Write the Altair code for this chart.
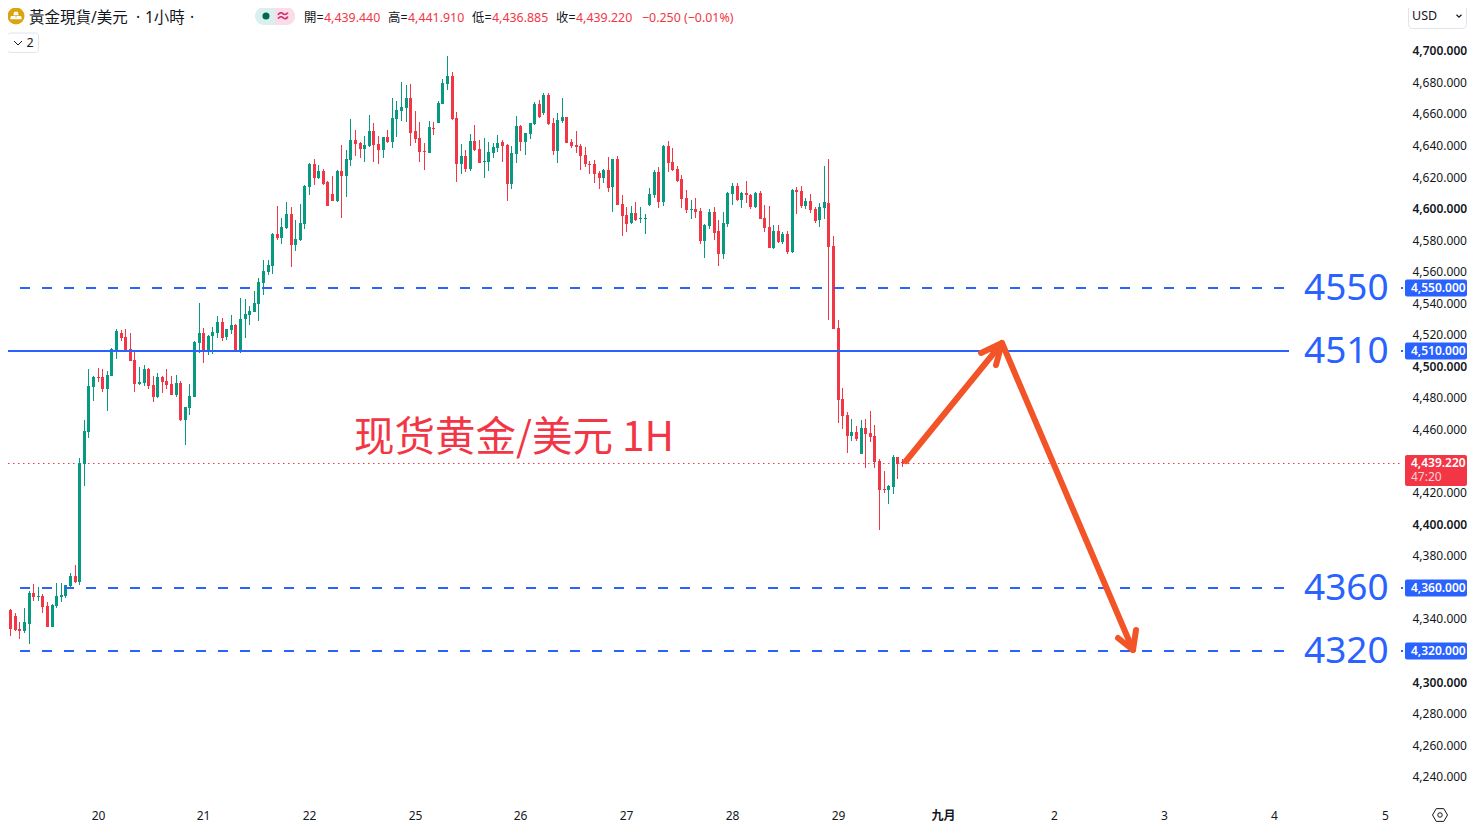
import json
import altair as alt
import pandas as pd

opens = [4358.2,4354.2,4346.0,4342.2,4333.9,4332.7,4337.1,4356.7,4354.2,4354.8,
4348.5,4335.2,4348.5,4354.2,4354.8,4361.2,4367.5,4363.7,4438.5,4458.7,
4487.2,4493.6,4493.6,4486.0,4494.2,4510.1,4521.5,4518.9,4511.3,4504.4,
4489.1,4489.8,4498.7,4488.5,4480.9,4493.6,4491.1,4489.1,4482.2,4489.8,
4466.3,4473.9,4480.9,4515.1,4521.5,4509.4,4519.6,4521.5,4528.4,4518.9,
4523.4,4526.6,4509.5,4530.4,4532.9,4534.8,4539.9,4553.2,4560.2,4564.0,
4584.2,4581.7,4588.0,4596.9,4577.3,4580.5,4590.6,4614.0,4628.6,4619.7,
4624.2,4617.2,4609.6,4605.1,4624.2,4621.0,4631.1,4643.8,4641.9,4638.1,
4640.0,4649.5,4641.3,4637.5,4645.7,4642.5,4657.1,4662.2,4664.1,4670.4,
4649.5,4645.1,4636.8,4635.6,4651.4,4654.6,4666.6,4679.3,4684.3,4657.7,
4628.6,4633.6,4625.4,4643.1,4638.1,4629.8,4629.8,4635.5,4638.7,4642.5,
4640.6,4615.9,4634.9,4652.6,4642.5,4647.6,4653.9,4666.6,4660.9,4672.3,
4654.5,4636.8,4655.8,4658.3,4642.5,4640.6,4640.0,4634.3,4628.6,4628.6,
4622.9,4619.7,4624.8,4614.0,4631.7,4603.2,4596.3,4591.2,4597.5,4593.7,
4593.7,4602.6,4608.9,4623.5,4604.5,4640.0,4629.8,4625.4,4619.1,4607.0,
4599.4,4600.0,4598.8,4579.8,4589.3,4598.1,4586.1,4571.5,4590.5,4609.5,
4614.6,4605.7,4610.2,4608.9,4601.3,4610.2,4594.3,4588.6,4575.3,4586.1,
4579.1,4584.2,4572.8,4612.1,4611.5,4601.9,4605.1,4600.0,4593.1,4600.7,
4603.9,4576.6,4524.7,4479.7,4469.6,4456.2,4458.8,4444.8,4461.3,4458.1,
4456.2,4440.4,4422.7,4422.0,4423.9,4443.0,4439.44]

closes = [4353.3,4345.3,4333.9,4333.3,4332.7,4338.4,4356.7,4354.2,4354.8,4347.9,
4335.2,4349.1,4354.8,4355.5,4361.8,4367.5,4363.7,4439.1,4459.4,4487.9,
4493.6,4493.0,4486.0,4494.9,4511.3,4522.7,4518.3,4510.7,4503.7,4489.1,
4490.4,4498.7,4487.9,4480.9,4493.6,4490.4,4488.5,4482.2,4489.8,4466.3,
4474.6,4481.5,4515.8,4521.5,4509.4,4519.6,4522.1,4528.4,4518.3,4524.0,
4526.6,4510.1,4530.4,4533.6,4535.5,4540.5,4553.8,4560.8,4564.6,4584.2,
4581.7,4588.7,4596.9,4577.3,4581.1,4591.2,4614.6,4628.6,4619.7,4624.2,
4615.9,4602.0,4605.1,4624.2,4621.0,4631.8,4643.8,4641.3,4638.1,4640.6,
4649.5,4640.6,4637.5,4645.7,4642.5,4657.7,4662.8,4664.7,4670.4,4648.2,
4644.4,4636.2,4636.2,4652.0,4650.8,4667.2,4679.9,4684.3,4657.1,4628.6,
4633.6,4625.4,4643.1,4637.4,4629.2,4630.5,4636.2,4639.3,4641.9,4640.0,
4615.9,4635.5,4652.6,4642.5,4648.2,4654.5,4666.6,4658.3,4672.3,4653.9,
4636.8,4656.4,4658.3,4641.9,4640.0,4639.3,4633.6,4628.6,4627.9,4622.2,
4619.7,4624.8,4613.4,4631.7,4602.6,4595.6,4590.6,4597.5,4593.1,4594.4,
4594.4,4609.6,4623.5,4604.5,4640.0,4629.2,4624.8,4617.8,4606.4,4599.4,
4600.0,4598.1,4579.8,4589.9,4598.1,4584.8,4571.5,4591.2,4610.2,4614.6,
4605.7,4610.2,4608.9,4601.3,4610.2,4593.7,4588.0,4575.3,4586.1,4579.1,
4584.2,4572.8,4612.1,4610.8,4601.9,4605.1,4599.4,4592.4,4601.3,4604.5,
4576.0,4524.0,4479.1,4468.9,4456.2,4458.8,4454.3,4461.3,4457.5,4455.6,
4439.8,4422.0,4422.0,4424.6,4443.0,4438.5,4439.22]

highs = [4361.2,4358.6,4346.6,4344.1,4338.4,4347.2,4358.0,4362.4,4360.5,4356.1,
4351.0,4349.8,4363.1,4363.1,4361.8,4369.4,4374.5,4442.3,4466.3,4498.7,
4494.2,4499.3,4498.7,4497.4,4512.0,4524.0,4523.4,4524.0,4521.5,4510.1,
4499.9,4501.2,4499.3,4494.2,4496.1,4494.2,4498.7,4494.2,4494.9,4491.1,
4474.6,4489.1,4516.4,4540.5,4524.6,4520.2,4525.3,4532.0,4531.0,4524.0,
4532.9,4527.2,4543.7,4543.0,4538.7,4548.1,4556.4,4567.8,4567.8,4584.9,
4602.0,4594.4,4604.5,4601.4,4593.1,4603.2,4615.3,4629.2,4631.8,4628.0,
4625.4,4617.8,4621.0,4624.8,4640.6,4637.5,4657.1,4650.1,4642.5,4646.3,
4659.6,4654.6,4646.3,4645.7,4650.1,4670.4,4668.5,4680.5,4678.6,4679.3,
4662.2,4655.2,4641.9,4655.8,4655.2,4668.5,4682.4,4697.0,4686.9,4661.5,
4641.2,4637.4,4647.6,4653.3,4643.8,4645.0,4642.5,4641.9,4646.9,4643.8,
4641.2,4640.0,4659.0,4653.3,4648.2,4654.5,4667.9,4669.1,4673.6,4673.6,
4657.7,4660.9,4670.4,4658.3,4644.4,4649.5,4641.2,4639.3,4630.5,4631.1,
4624.1,4625.4,4633.0,4631.7,4633.6,4608.9,4601.3,4602.0,4604.5,4601.3,
4596.9,4613.4,4624.8,4626.7,4640.6,4643.1,4638.7,4627.3,4621.6,4612.1,
4605.7,4607.0,4600.7,4590.5,4600.0,4601.3,4593.1,4598.1,4610.8,4616.5,
4616.5,4610.8,4617.8,4609.5,4610.8,4611.5,4602.6,4601.9,4589.9,4589.9,
4585.5,4586.1,4612.7,4614.0,4614.6,4607.0,4609.5,4601.3,4603.8,4627.3,
4631.8,4583.0,4529.7,4486.7,4471.4,4467.0,4462.6,4466.4,4467.0,4472.1,
4463.2,4441.7,4434.1,4425.2,4444.2,4443.0,4441.91]

lows = [4353.1,4338.6,4329.5,4332.7,4327.6,4331.4,4324.4,4351.7,4351.7,4344.1,
4335.2,4335.2,4347.2,4351.0,4353.6,4359.9,4363.1,4361.8,4424.5,4454.9,
4478.4,4490.4,4484.1,4472.0,4494.2,4505.0,4516.4,4510.1,4503.7,4484.1,
4488.5,4487.9,4486.0,4477.7,4480.3,4483.4,4486.0,4482.2,4480.9,4465.7,
4450.5,4469.5,4480.9,4508.8,4502.5,4507.5,4508.2,4518.3,4516.4,4517.0,
4520.9,4509.5,4508.8,4518.3,4526.6,4534.8,4529.1,4545.6,4558.3,4558.9,
4580.5,4577.9,4587.4,4563.3,4573.5,4579.8,4587.4,4609.0,4615.3,4619.1,
4615.3,4602.0,4605.1,4604.5,4594.4,4607.7,4627.3,4633.7,4632.4,4629.9,
4639.4,4629.9,4628.6,4632.4,4641.9,4638.7,4645.7,4655.8,4655.2,4640.0,
4641.9,4629.9,4624.8,4635.6,4646.9,4654.6,4666.6,4675.5,4656.4,4617.2,
4622.2,4623.5,4624.1,4636.8,4629.2,4619.7,4624.1,4632.4,4636.2,4629.8,
4605.1,4612.7,4629.2,4636.8,4634.3,4644.4,4653.3,4657.7,4659.6,4653.3,
4634.3,4629.2,4654.5,4641.9,4638.7,4635.5,4624.8,4626.7,4622.2,4616.5,
4612.7,4616.5,4610.8,4598.2,4602.6,4583.0,4585.5,4590.6,4592.5,4591.2,
4584.2,4602.0,4607.0,4600.7,4602.0,4623.5,4624.1,4617.2,4600.7,4597.5,
4593.7,4594.3,4577.9,4569.0,4587.4,4580.4,4563.9,4568.4,4588.6,4602.6,
4605.1,4600.7,4603.8,4600.0,4600.7,4593.7,4585.5,4575.3,4574.7,4578.5,
4577.9,4571.5,4572.2,4596.9,4600.7,4600.0,4597.5,4591.2,4588.6,4593.7,
4529.7,4524.0,4464.5,4460.7,4445.5,4453.1,4453.1,4444.8,4436.0,4452.4,
4436.0,4396.7,4420.1,4413.2,4419.5,4429.0,4436.885]

price_ticks = [4700,4680,4660,4640,4620,4600,4580,4560,4540,4520,4500,4480,4460,
               4420,4400,4380,4340,4300,4280,4260,4240]
date_ticks = [21,44,67,90,113,136,159,182,205,229,253,277,301]
date_labels = ["20","21","22","25","26","27","28","29","九月","2","3","4","5"]

levels = [4550, 4510, 4360, 4320]
level_names = ["4550", "4510", "4360", "4320"]
level_tags = ["4,550.000", "4,510.000", "4,360.000", "4,320.000"]
level_dash = [True, False, True, True]
last_price = 4439.22

arrow_x = [196.9, 217.8, 246.2]
arrow_p = [4440.6, 4515.3, 4320.6]
head1_x = [213.1, 217.8, 216.4]
head1_p = [4509.0, 4515.3, 4501.4]
head2_x = [243.0, 246.2, 246.8]
head2_p = [4328.4, 4320.6, 4333.3]

GREEN, RED, BLUE = "#089981", "#F23645", "#2962FF"
ORANGE = "#F25427"
INK = "#131722"
FONT = "Noto Sans, Noto Sans CJK TC"
CJK = "Noto Sans CJK SC"

x_scale = alt.Scale(domain=[1.523, 304.98], round=True, padding=0)
y_scale = alt.Scale(domain=[4223.7, 4727.4], round=True)
x_axis = alt.Axis(
    values=date_ticks, domain=False, ticks=False, grid=False, labelPadding=7,
    labelExpr=f"{json.dumps(date_labels, ensure_ascii=False)}[indexof({json.dumps(date_ticks)}, datum.value)]",
    labelFont=FONT, labelFontSize=12, labelColor=INK, labelAngle=0,
    labelFontWeight={"condition": {"test": "datum.value == 205", "value": "bold"}, "value": "normal"})
y_axis = alt.Axis(
    orient="right", values=price_ticks, format=",.3f", domain=False, ticks=False, grid=False,
    labelPadding=9, labelFont=FONT, labelFontSize=12, labelColor=INK, labelBound=False,
    labelOverlap=False, labelOffset=-1,
    labelFontWeight={"condition": {"test": "datum.value % 100 == 0", "value": 600}, "value": "normal"})
X = alt.X("i:Q", scale=x_scale, axis=x_axis, title=None)


def Yq(field):
    return alt.Y(field, scale=y_scale, axis=y_axis, title=None)


df = pd.DataFrame({"i": range(len(opens)), "o": opens, "h": highs, "l": lows, "c": closes})
df["top"] = df[["o", "c"]].max(axis=1)
df["bot"] = df[["o", "c"]].min(axis=1)
df["dir"] = ["up" if c > o else "down" for o, c in zip(opens, closes)]
color = alt.Color("dir:N", scale=alt.Scale(domain=["up", "down"], range=[GREEN, RED]), legend=None)

wicks = alt.Chart(df).mark_rule(strokeWidth=1, xOffset=0.5, clip=True).encode(
    x=X, y=Yq("l:Q"), y2="h:Q", color=color)
bodies = alt.Chart(df).mark_bar(size=3, xOffset=0.5, clip=True).encode(
    x=X, y=Yq("bot:Q"), y2="top:Q", color=color)


def txt(s, x, y, color=INK, size=12, align="left", weight="normal", font=FONT):
    return alt.Chart(pd.DataFrame({"t": [s]})).mark_text(
        align=align, baseline="middle", color=color, fontSize=size, font=font, fontWeight=weight
    ).encode(x=alt.value(x - 8), y=alt.value(y - 8), text="t:N")


def box(x0, y0, x1, y1, fill, **kw):
    return alt.Chart(pd.DataFrame({"k": [0]})).mark_rect(fill=fill, **kw).encode(
        x=alt.value(x0 - 8), x2=alt.value(x1 - 8), y=alt.value(y0 - 8), y2=alt.value(y1 - 8))


def glyph(shape, x, y, size, **kw):
    return alt.Chart(pd.DataFrame({"k": [0]})).mark_point(shape=shape, size=size, opacity=1, **kw).encode(
        x=alt.value(x - 8), y=alt.value(y - 8))


layers = []

# current price dotted line
layers.append(alt.Chart(pd.DataFrame({"p": [last_price]})).mark_rule(
    color=RED, strokeWidth=1, strokeDash=[1.5, 3.5], yOffset=0.5).encode(
    x=alt.value(0), x2=alt.value(1395), y=Yq("p:Q")))
layers += [wicks, bodies]

# horizontal levels
for p, name, tag, dashed in zip(levels, level_names, level_tags, level_dash):
    d = pd.DataFrame({"p": [p], "name": [name], "tag": [tag]})
    style = {"strokeDash": [10, 12], "strokeDashOffset": 10} if dashed else {}
    Y = Yq("p:Q")
    layers.append(alt.Chart(d).mark_rule(color=BLUE, strokeWidth=2, **style).encode(
        x=alt.value(0), x2=alt.value(1281), y=Y))
    layers.append(alt.Chart(d).mark_rule(color=BLUE, strokeWidth=2).encode(
        x=alt.value(1393), x2=alt.value(1395), y=Y))
    layers.append(alt.Chart(d).mark_text(align="left", baseline="middle", color=BLUE, fontSize=37,
                                         font="Noto Sans", dy=1).encode(
        x=alt.value(1296), y=Y, text="name:N"))
    layers.append(alt.Chart(d).mark_rect(fill=BLUE, cornerRadius=2, height=17).encode(
        x=alt.value(1397), x2=alt.value(1459), y=Y))
    layers.append(alt.Chart(d).mark_text(align="left", baseline="middle", color="white", fontSize=12,
                                         font=FONT, fontWeight=600).encode(
        x=alt.value(1403), y=Y, text="tag:N"))

# current price tag
layers.append(box(1405, 455, 1467, 486, RED, cornerRadius=2))
layers.append(txt("4,439.220", 1411, 463, "white", weight=600))
layers.append(txt("47:20", 1411, 477, "#FBD0D4"))

# arrows
arrows = pd.concat([
    pd.DataFrame({"i": arrow_x, "p": arrow_p, "g": "a", "n": range(3)}),
    pd.DataFrame({"i": head1_x, "p": head1_p, "g": "b", "n": range(3)}),
    pd.DataFrame({"i": head2_x, "p": head2_p, "g": "c", "n": range(3)}),
])
layers.append(alt.Chart(arrows).mark_line(color=ORANGE, strokeWidth=6, strokeCap="round", strokeJoin="round").encode(
    x=X, y=Yq("p:Q"), detail="g:N", order="n:Q"))

# chart title on the canvas
layers.append(txt("现货黄金/美元 1H", 354, 439, RED, size=40.5, font=CJK))

# header
layers.append(glyph("circle", 16, 16, 289, filled=True, color="#DDA30F"))
layers.append(glyph("M-0.25 -0.6L0.25 -0.6L0.38 -0.12L-0.38 -0.12Z M-0.72 0L-0.06 0L0 0.45L-0.82 0.45Z M0.06 0L0.72 0L0.82 0.45L0 0.45Z",
                    16, 16, 200, filled=True, color="white"))
for s, x in [("黃金現貨/美元", 29), ("·", 136), ("1小時", 145), ("·", 190)]:
    layers.append(txt(s, x, 18, INK, size=15.5))
layers.append(box(255, 7, 295, 25, "#D9F0EC", cornerRadius=9))
layers.append(box(275, 7, 295, 25, "#FCDCE8", cornerRadiusTopRight=9, cornerRadiusBottomRight=9))
layers.append(glyph("circle", 266, 16, 50, filled=True, color="#056656"))
layers.append(txt("≈", 283, 16, "#CC2F6A", size=15, align="center", weight="bold"))
for s, x, col in [("開=", 304, INK), ("4,439.440", 324, RED), ("高=", 388, INK), ("4,441.910", 408, RED),
                  ("低=", 472, INK), ("4,436.885", 492, RED), ("收=", 556, INK), ("4,439.220", 576, RED),
                  ("−0.250", 642, RED), ("(−0.01%)", 684, RED)]:
    layers.append(txt(s, x, 18, col, size=12.4))
layers.append(box(7.5, 33, 38.5, 52.5, "white", stroke="#E0E3EB", cornerRadius=3))
layers.append(glyph("M-1 -0.5L0 0.5L1 -0.5", 18, 43, 64, filled=False, color=INK, strokeWidth=1))
layers.append(txt("2", 30, 43, INK, size=12.5, align="center"))
layers.append(box(1408.5, 3.5, 1466.5, 28.5, "white", stroke="#E0E3EB", cornerRadius=4))
layers.append(txt("USD", 1412, 16, INK, size=12.5))
layers.append(glyph("M-1 -0.5L0 0.5L1 -0.5", 1459, 16, 25, filled=False, color=INK, strokeWidth=1.2))

# settings icon
layers.append(glyph("M-1 0L-0.5 -0.85L0.5 -0.85L1 0L0.5 0.85L-0.5 0.85Z", 1440, 815, 225, filled=False, color=INK, strokeWidth=1))
layers.append(glyph("circle", 1440, 815, 20, filled=False, color=INK, strokeWidth=1))

chart = alt.layer(*layers).properties(
    width=1395, height=795,
    autosize=alt.AutoSizeParams(type="none"),
    padding={"left": 0, "top": 0, "right": 64, "bottom": 20},
).configure_view(strokeWidth=0)

chart.save("out.html", embed_options={"renderer": "svg", "actions": False})
